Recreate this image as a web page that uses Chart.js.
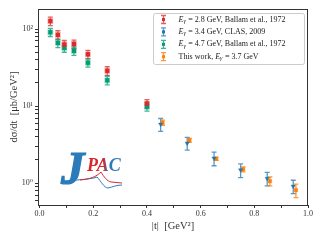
<!DOCTYPE html>
<html>
<head>
<meta charset="utf-8">
<script src="https://cdn.jsdelivr.net/npm/chart.js@4.4.0/dist/chart.umd.min.js"></script>
<style>
html, body { margin: 0; padding: 0; background: #fff; }
#wrap { width: 320px; height: 240px; }
</style>
</head>
<body>
<div id="wrap"><canvas id="chart" width="320" height="240"></canvas></div>
<script>
// 数据
const tBallam = [0.04, 0.068, 0.092, 0.128, 0.18, 0.252, 0.40];
const sig28 = [127, 84, 63, 64, 47, 28.7, 10.8];
const err28 = [16, 11, 8, 8, 6, 3.7, 1.3];
const sig47 = [91, 66, 57, 52, 36.5, 21.6, 9.8];
const err47 = [11, 8.5, 7, 6.5, 4.5, 2.8, 1.2];

const tClas = [0.451, 0.55, 0.65, 0.749, 0.848, 0.945];
const sigClas = [5.8, 3.3, 2.1, 1.48, 1.15, 0.91];
const errClas = [1.1, 0.62, 0.42, 0.3, 0.23, 0.18];

const tThis = [0.458, 0.558, 0.658, 0.758, 0.858, 0.955];
const sigThis = [6.1, 3.6, 2.07, 1.51, 1.06, 0.81];
const errThis = [0.46, 0.22, 0.1, 0.11, 0.14, 0.16];

const seriesNames = [
    'E_γ = 2.8 GeV, Ballam et al., 1972',
    'E_γ = 3.4 GeV, CLAS, 2009',
    'E_γ = 4.7 GeV, Ballam et al., 1972',
    'This work, E_γ = 3.7 GeV'
];

const xTicks = [0, 0.1, 0.2, 0.3, 0.4, 0.5, 0.6, 0.7, 0.8, 0.9, 1.0];
const xTickLabels = ['0.0', '', '0.2', '', '0.4', '', '0.6', '', '0.8', '', '1.0'];
const yTicks = [0.6, 0.7, 0.8, 0.9, 1, 2, 3, 4, 5, 6, 7, 8, 9, 10, 20, 30, 40, 50, 60, 70, 80, 90, 100];
const yTickLabels = { 1: '10⁰', 10: '10¹', 100: '10²' };

const SERIF = "'Liberation Serif', 'DejaVu Serif', serif";

function pts(xs, ys, es) {
    return xs.map((x, i) => ({ x: x, y: ys[i], err: es[i] }));
}

// 误差棒
const errorBars = {
    id: 'errorBars',
    beforeDatasetsDraw(chart) {
        const ctx = chart.ctx;
        const ys = chart.scales.y;
        chart.data.datasets.forEach((ds, i) => {
            const meta = chart.getDatasetMeta(i);
            ctx.save();
            ctx.strokeStyle = ds.errColor;
            ctx.lineWidth = 1.3;
            meta.data.forEach((pt, j) => {
                const d = ds.data[j];
                const top = ys.getPixelForValue(d.y + d.err);
                const bot = ys.getPixelForValue(d.y - d.err);
                ctx.beginPath();
                ctx.moveTo(pt.x, top); ctx.lineTo(pt.x, bot);
                ctx.moveTo(pt.x - 2.5, top); ctx.lineTo(pt.x + 2.5, top);
                ctx.moveTo(pt.x - 2.5, bot); ctx.lineTo(pt.x + 2.5, bot);
                ctx.stroke();
            });
            ctx.restore();
        });
    }
};

// 边框、图例、logo
const decor = {
    id: 'decor',
    afterDraw(chart) {
        const ctx = chart.ctx;
        const a = chart.chartArea;
        ctx.save();
        ctx.strokeStyle = '#333';
        ctx.lineWidth = 1;
        ctx.strokeRect(a.left + 0.5, a.top + 0.5, a.right - a.left - 1, a.bottom - a.top);

        // JPAC logo
        const lx = a.left, ly = a.bottom;
        ctx.lineWidth = 1;
        ctx.strokeStyle = '#2b7bba';
        ctx.beginPath();
        ctx.moveTo(lx + 24, ly - 24);
        ctx.bezierCurveTo(lx + 40, ly - 25, lx + 55, ly - 26, lx + 59, ly - 28);
        ctx.bezierCurveTo(lx + 63, ly - 24, lx + 66, ly - 17, lx + 70, ly - 17);
        ctx.bezierCurveTo(lx + 75, ly - 18, lx + 78, ly - 20, lx + 84, ly - 20);
        ctx.stroke();
        ctx.strokeStyle = '#d7282f';
        ctx.beginPath();
        ctx.moveTo(lx + 42, ly - 25);
        ctx.bezierCurveTo(lx + 52, ly - 26, lx + 58, ly - 28, lx + 63, ly - 33);
        ctx.bezierCurveTo(lx + 66, ly - 28, lx + 69, ly - 24, lx + 73, ly - 23);
        ctx.lineTo(lx + 84, ly - 22);
        ctx.stroke();
        ctx.fillStyle = '#2b7bba';
        ctx.strokeStyle = '#2b7bba';
        ctx.lineWidth = 1.2;
        ctx.font = "italic bold 47px " + SERIF;
        ctx.textBaseline = 'alphabetic';
        ctx.fillText('J', lx + 23, ly - 21);
        ctx.strokeText('J', lx + 23, ly - 21);
        ctx.font = "italic bold 18px " + SERIF;
        const g = ctx.createLinearGradient(lx + 49, 0, lx + 85, 0);
        g.addColorStop(0, '#d7282f');
        g.addColorStop(0.45, '#d7282f');
        g.addColorStop(0.6, '#2b7bba');
        g.addColorStop(1, '#2b7bba');
        ctx.fillStyle = g;
        ctx.fillText('PAC', lx + 49, ly - 34);

        // 图例
        const bx = 153.5, by = 13.5, bw = 151, bh = 51;
        ctx.fillStyle = 'rgba(255,255,255,0.85)';
        ctx.strokeStyle = '#cccccc';
        ctx.lineWidth = 1;
        ctx.beginPath();
        ctx.roundRect(bx, by, bw, bh, 2);
        ctx.fill();
        ctx.stroke();
        const order = [0, 1, 2, 3];
        order.forEach((k, i) => {
            const ds = chart.data.datasets[k];
            const cy = by + 6 + i * 12.4;
            const mx = bx + 10;
            ctx.strokeStyle = ds.errColor;
            ctx.lineWidth = 1.3;
            ctx.beginPath();
            ctx.moveTo(mx, cy - 4); ctx.lineTo(mx, cy + 4);
            ctx.moveTo(mx - 2.5, cy - 4); ctx.lineTo(mx + 2.5, cy - 4);
            ctx.moveTo(mx - 2.5, cy + 4); ctx.lineTo(mx + 2.5, cy + 4);
            ctx.stroke();
            ctx.fillStyle = ds.backgroundColor;
            ctx.fillRect(mx - 1.5, cy - 1.5, 3, 3);
            // 文字
            ctx.fillStyle = '#222';
            ctx.textBaseline = 'middle';
            let x = bx + 25;
            const parts = seriesNames[k].split('E_γ');
            ctx.font = "8px " + SERIF;
            ctx.fillText(parts[0], x, cy);
            x += ctx.measureText(parts[0]).width;
            ctx.font = "italic 8px " + SERIF;
            ctx.fillText('E', x, cy);
            x += ctx.measureText('E').width;
            ctx.font = "italic 6px " + SERIF;
            ctx.fillText('γ', x, cy + 2);
            x += ctx.measureText('γ').width + 0.5;
            ctx.font = "8px " + SERIF;
            ctx.fillText(parts[1], x, cy);
        });
        ctx.restore();
    }
};

const ctx = document.getElementById('chart');
new Chart(ctx, {
    type: 'scatter',
    data: {
        datasets: [{
            label: seriesNames[0],
            data: pts(tBallam, sig28, err28),
            backgroundColor: '#dc2a2a',
            borderColor: 'rgba(220,42,42,0.35)',
            borderWidth: 1.5,
            pointStyle: 'rect',
            pointRadius: 3,
            errColor: 'rgba(220,42,42,0.75)'
        }, {
            label: seriesNames[1],
            data: pts(tClas, sigClas, errClas),
            backgroundColor: '#1f77b4',
            borderColor: 'rgba(31,119,180,0.4)',
            borderWidth: 1,
            pointStyle: 'triangle',
            rotation: 180,
            pointRadius: 2.5,
            errColor: 'rgba(31,119,180,0.75)'
        }, {
            label: seriesNames[2],
            data: pts(tBallam, sig47, err47),
            backgroundColor: '#009e73',
            borderColor: 'rgba(0,158,115,0.35)',
            borderWidth: 1.5,
            pointStyle: 'rect',
            pointRadius: 3,
            errColor: 'rgba(0,158,115,0.75)'
        }, {
            label: seriesNames[3],
            data: pts(tThis, sigThis, errThis),
            backgroundColor: '#ff7f0e',
            borderColor: 'rgba(255,127,14,0.4)',
            borderWidth: 1,
            pointStyle: 'rect',
            pointRadius: 2.5,
            errColor: 'rgba(255,127,14,0.8)'
        }]
    },
    options: {
        responsive: false,
        animation: false,
        devicePixelRatio: 1,
        layout: { padding: { left: 0, top: 9, right: 12, bottom: 0 } },
        plugins: {
            legend: { display: false },
            tooltip: { enabled: false }
        },
        scales: {
            x: {
                type: 'linear',
                min: -0.006,
                max: 1.0,
                afterBuildTicks: s => { s.ticks = xTicks.map(v => ({ value: v })); },
                afterFit: s => { s.height = 35; },
                grid: { drawOnChartArea: false, drawTicks: true, tickLength: 3, tickColor: '#333' },
                border: { display: true, color: '#333' },
                ticks: {
                    autoSkip: false,
                    maxRotation: 0,
                    padding: 1,
                    color: '#333',
                    font: { family: SERIF, size: 8 },
                    callback: (v, i) => xTickLabels[i]
                },
                title: {
                    display: true,
                    text: '|t|  [GeV²]',
                    color: '#333',
                    font: { family: SERIF, size: 10.5 },
                    padding: { top: 0, bottom: 7 }
                }
            },
            y: {
                type: 'logarithmic',
                min: 0.52,
                max: 182,
                afterBuildTicks: s => { s.ticks = yTicks.map(v => ({ value: v })); },
                afterFit: s => { s.width = 38; },
                grid: { drawOnChartArea: false, drawTicks: true, tickLength: 3, tickColor: '#333' },
                border: { display: true, color: '#333' },
                ticks: {
                    autoSkip: false,
                    padding: 2,
                    color: '#333',
                    font: { family: SERIF, size: 8 },
                    callback: v => yTickLabels[v] || ''
                },
                title: {
                    display: true,
                    text: 'dσ/dt  [μb/GeV²]',
                    color: '#333',
                    font: { family: SERIF, size: 10.5 },
                    padding: { top: 8, bottom: 0 }
                }
            }
        }
    },
    plugins: [errorBars, decor]
});
</script>
</body>
</html>
